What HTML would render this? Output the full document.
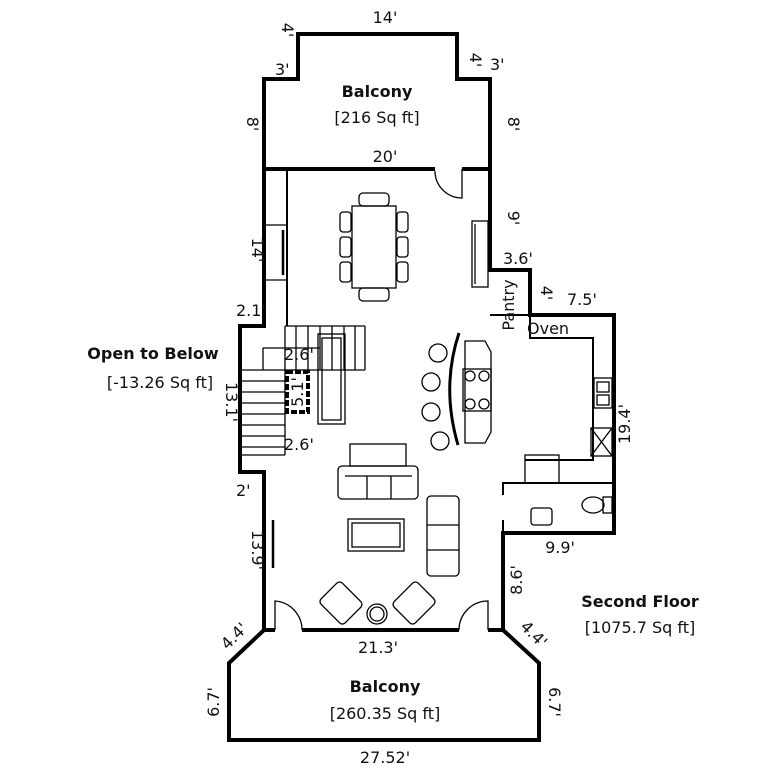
<!DOCTYPE html>
<html><head><style>
html,body{margin:0;padding:0;background:#fff;}
svg{display:block}
text{font-family:"DejaVu Sans","Liberation Sans",sans-serif;fill:#111;}
</style></head><body>
<svg width="767" height="768" viewBox="0 0 767 768" xmlns="http://www.w3.org/2000/svg">
<g fill="none" stroke="#000" stroke-width="4" stroke-linejoin="miter">
<polyline points="264,169 264,79 298,79 298,34 457,34 457,79 490,79 490,169"/>
<line x1="262" y1="169" x2="492" y2="169"/>
<polyline points="264,169 264,326 240,326 240,472 264,472 264,630"/>
<polyline points="490,169 490,270 530,270 530,315 614,315 614,533 503,533 503,630"/>
<line x1="262" y1="630" x2="505" y2="630"/>
<polygon points="264,630 503,630 539,663 539,740 229,740 229,663"/>
</g>
<g stroke="#fff" stroke-width="5">
<line x1="275" y1="630" x2="302" y2="630"/>
<line x1="459" y1="630" x2="488" y2="630"/>
<line x1="435" y1="169" x2="462" y2="169"/>
</g>
<g fill="none" stroke="#000" stroke-width="1.3">
<path d="M275,630 V601 A29,29 0 0 1 302,630"/>
<path d="M488,630 V601 A29,29 0 0 0 459,630"/>
<path d="M462,169 V198 A27,27 0 0 1 435,171"/>
<line x1="287" y1="171" x2="287" y2="326" stroke-width="2"/>
<line x1="266" y1="225" x2="287" y2="225"/>
<line x1="266" y1="280" x2="287" y2="280"/>
<line x1="283" y1="230" x2="283" y2="275" stroke-width="2.5"/>
<line x1="273" y1="520" x2="273" y2="568" stroke-width="2.5"/>
<line x1="490" y1="315" x2="530" y2="315" stroke-width="2"/>
<polyline points="530,315 530,338 593,338 593,460 525,460" stroke-width="2"/>
<rect x="525" y="455" width="34" height="28"/>
<polyline points="503,495 503,483 614,483" stroke-width="2"/>
<line x1="503" y1="520" x2="503" y2="533" stroke-width="2"/>
<rect x="594" y="378" width="18" height="30"/>
<rect x="597" y="382" width="12" height="10"/><rect x="597" y="395" width="12" height="10"/>
<rect x="591" y="428" width="21" height="28"/>
<line x1="591" y1="428" x2="612" y2="456"/><line x1="612" y1="428" x2="591" y2="456"/>
<rect x="603" y="497" width="9" height="16"/>
<ellipse cx="593" cy="505" rx="11" ry="8"/>
<rect x="531" y="508" width="21" height="17" rx="3"/>
<rect x="472" y="221" width="16" height="66"/>
<line x1="475" y1="224" x2="475" y2="284"/>
<rect x="352" y="206" width="44" height="82"/>
<rect x="359" y="193" width="30" height="13" rx="4"/>
<rect x="359" y="288" width="30" height="13" rx="4"/>
<rect x="340" y="212" width="11" height="20" rx="3"/><rect x="340" y="237" width="11" height="20" rx="3"/><rect x="340" y="262" width="11" height="20" rx="3"/>
<rect x="397" y="212" width="11" height="20" rx="3"/><rect x="397" y="237" width="11" height="20" rx="3"/><rect x="397" y="262" width="11" height="20" rx="3"/>
<line x1="285" y1="326" x2="365" y2="326"/>
<line x1="365" y1="326" x2="365" y2="370"/>
<line x1="242" y1="370" x2="365" y2="370"/>
<line x1="263" y1="348" x2="320" y2="348"/>
<line x1="263" y1="348" x2="263" y2="370"/>
<line x1="285" y1="326" x2="285" y2="455"/>
<line x1="296" y1="326" x2="296" y2="370"/><line x1="308" y1="326" x2="308" y2="370"/><line x1="320" y1="326" x2="320" y2="370"/>
<line x1="332" y1="326" x2="332" y2="370"/><line x1="344" y1="326" x2="344" y2="370"/><line x1="355" y1="326" x2="355" y2="370"/>
<line x1="242" y1="381" x2="285" y2="381"/><line x1="242" y1="392" x2="285" y2="392"/><line x1="242" y1="403" x2="285" y2="403"/>
<line x1="242" y1="414" x2="285" y2="414"/><line x1="242" y1="425" x2="285" y2="425"/><line x1="242" y1="436" x2="285" y2="436"/>
<line x1="242" y1="447" x2="285" y2="447"/><line x1="242" y1="455" x2="285" y2="455"/>
<rect x="318" y="334" width="27" height="90"/>
<rect x="322" y="338" width="19" height="82"/>
<polygon points="465,341 485,341 491,352 491,432 485,443 465,443"/>
<path d="M459,333 Q441,387 458,445" stroke-width="3"/>
<rect x="463" y="369" width="28" height="42"/>
<circle cx="470" cy="376" r="5"/><circle cx="484" cy="376" r="5"/><circle cx="470" cy="404" r="5"/><circle cx="484" cy="404" r="5"/>
<circle cx="438" cy="353" r="9"/><circle cx="431" cy="382" r="9"/><circle cx="431" cy="412" r="9"/><circle cx="440" cy="441" r="9"/>
<rect x="350" y="444" width="56" height="22"/>
<rect x="338" y="466" width="80" height="33" rx="4"/>
<line x1="367" y1="476" x2="367" y2="499"/><line x1="391" y1="476" x2="391" y2="499"/>
<line x1="345" y1="476" x2="412" y2="476"/>
<rect x="348" y="519" width="56" height="32"/>
<rect x="352" y="523" width="48" height="24"/>
<rect x="427" y="496" width="32" height="80" rx="4"/>
<line x1="427" y1="525" x2="459" y2="525"/><line x1="427" y1="550" x2="459" y2="550"/>
<g transform="rotate(45 341 603)"><rect x="324" y="588" width="34" height="30" rx="4"/></g>
<g transform="rotate(-45 414 603)"><rect x="397" y="588" width="34" height="30" rx="4"/></g>
<circle cx="377" cy="614" r="10"/><circle cx="377" cy="614" r="7"/>
</g>
<rect x="287" y="372" width="21" height="40" fill="none" stroke="#000" stroke-width="4" stroke-dasharray="6,2"/>
<g font-size="16">
<text x="385" y="23" text-anchor="middle">14'</text>
<text x="385" y="162" text-anchor="middle">20'</text>
<text x="275" y="75">3'</text>
<text x="490" y="70">3'</text>
<text x="282" y="30" transform="rotate(90 282 30)" text-anchor="middle">4'</text>
<text x="470" y="60" transform="rotate(90 470 60)" text-anchor="middle">4'</text>
<text x="247" y="124" transform="rotate(90 247 124)" text-anchor="middle">8'</text>
<text x="508" y="124" transform="rotate(90 508 124)" text-anchor="middle">8'</text>
<text x="508" y="218" transform="rotate(90 508 218)" text-anchor="middle">9'</text>
<text x="252" y="250" transform="rotate(90 252 250)" text-anchor="middle">14'</text>
<text x="236" y="316">2.1'</text>
<text x="503" y="264">3.6'</text>
<text x="541" y="293" transform="rotate(90 541 293)" text-anchor="middle">4'</text>
<text x="567" y="305">7.5'</text>
<text x="527" y="334">Oven</text>
<text x="514" y="305" transform="rotate(-90 514 305)" text-anchor="middle">Pantry</text>
<text x="284" y="360">2.6'</text>
<text x="284" y="450">2.6'</text>
<text x="303" y="392" transform="rotate(-90 303 392)" text-anchor="middle">5.1'</text>
<text x="226" y="402" transform="rotate(90 226 402)" text-anchor="middle">13.1'</text>
<text x="630" y="424" transform="rotate(-90 630 424)" text-anchor="middle">19.4'</text>
<text x="236" y="496">2'</text>
<text x="252" y="550" transform="rotate(90 252 550)" text-anchor="middle">13.9'</text>
<text x="560" y="553" text-anchor="middle">9.9'</text>
<text x="522" y="580" transform="rotate(-90 522 580)" text-anchor="middle">8.6'</text>
<text x="378" y="653" text-anchor="middle">21.3'</text>
<text x="238" y="640" transform="rotate(-45 238 640)" text-anchor="middle">4.4'</text>
<text x="530" y="638" transform="rotate(45 530 638)" text-anchor="middle">4.4'</text>
<text x="219" y="702" transform="rotate(-90 219 702)" text-anchor="middle">6.7'</text>
<text x="549" y="702" transform="rotate(90 549 702)" text-anchor="middle">6.7'</text>
<text x="385" y="763" text-anchor="middle">27.52'</text>
<text x="385" y="719" text-anchor="middle">[260.35 Sq ft]</text>
<text x="377" y="123" text-anchor="middle">[216 Sq ft]</text>
<text x="160" y="388" text-anchor="middle">[-13.26 Sq ft]</text>
<text x="640" y="633" text-anchor="middle">[1075.7 Sq ft]</text>
</g>
<g font-size="16" font-weight="bold">
<text x="377" y="97" text-anchor="middle">Balcony</text>
<text x="385" y="692" text-anchor="middle">Balcony</text>
<text x="153" y="359" text-anchor="middle">Open to Below</text>
<text x="640" y="607" text-anchor="middle">Second Floor</text>
</g>
</svg>
</body></html>
